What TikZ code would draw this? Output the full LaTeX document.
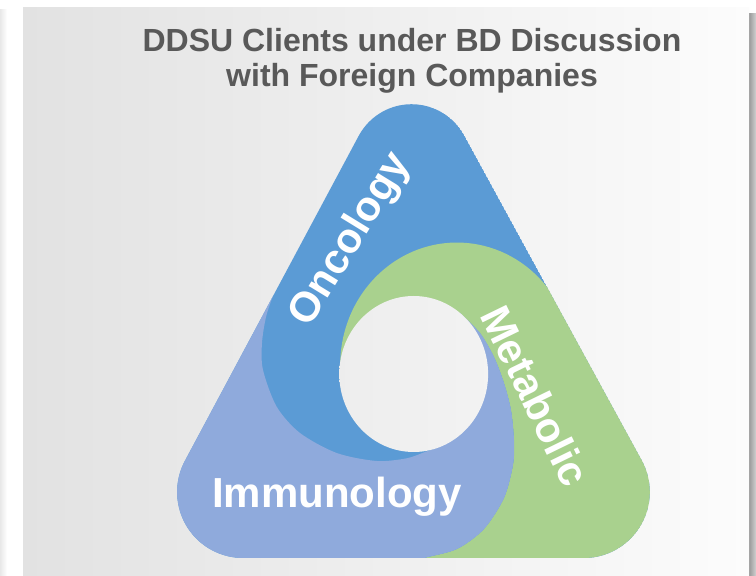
\documentclass[tikz,border=0pt]{standalone}
\usepackage{fontspec}
\setmainfont{Liberation Sans}
\begin{document}
\begin{tikzpicture}[x=1pt,y=1pt,
  lbl/.style={text=white,inner sep=0pt,font=\bfseries\fontsize{#1}{#1}\selectfont},
  ttl/.style={text=titlegray,inner sep=0pt,anchor=base,font=\bfseries\fontsize{32}{34}\selectfont},
  panelshade/.style={left color=panelL,right color=panelR}]
\definecolor{cblue}{HTML}{5B9BD5}
\definecolor{cgreen}{HTML}{A9D18E}
\definecolor{cperi}{HTML}{8FAADC}
\definecolor{panelL}{HTML}{E2E2E2}
\definecolor{panelR}{HTML}{FCFCFC}
\definecolor{titlegray}{HTML}{595959}
\newcommand\tripath{(464.2,440.6) arc[start angle=28.7,end angle=151.9,radius=60]
  -- (184.9,115.1) arc[start angle=151.9,end angle=270,radius=66]
  -- (583.8,18) arc[start angle=270,end angle=388.6,radius=66] -- cycle}
\useasboundingbox (0,0) rectangle (756,576);
\fill[white] (0,0) rectangle (756,576);
% shadows
\shade[left color=black!9,right color=white] (0,0) rectangle (7,566);
\shade[left color=black!40,right color=black!18] (749,0) rectangle (756,562);
% panel
\shade[panelshade] (23,0) rectangle (749,568);
% title
\node[ttl] (title1) at (412,524) {DDSU Clients under BD Discussion};
\node[ttl] (title2) at (412,489.5) {with Foreign Companies};
% lobes
\begin{scope}
  \clip \tripath;
  \fill[cblue] \tripath;
  % green (Metabolic)
  \fill[cgreen] (640,289.3) -- (546.7,289.3)
    arc[start angle=39.7,end angle=182,x radius=116.7,y radius=122.3]
    -- (413.7,202)
    -- plot[smooth] coordinates {(460,263) (480,243) (494,219) (504,193) (511,166) (514,136) (513,111) (504,78) (484,47) (457,27) (423,17.7) (390,8)}
    -- (390,-10) -- (780,-10) -- (780,289.3) -- cycle;
  % periwinkle (Immunology)
  \fill[cperi] plot[smooth] coordinates {(460,263) (480,243) (494,219) (504,193) (511,166) (514,136) (513,111) (504,78) (484,47) (457,27) (423,17.7) (390,8)}
    -- (390,-10) -- (100,-10) -- (100,288)
    -- plot[smooth] coordinates {(276,288) (266.5,261) (262,233) (263,206) (276.7,169.3) (300,143) (336.7,123) (376.7,115) (406.7,117.7) (425,124) (437,128)}
    -- (413.7,202) -- cycle;
\end{scope}
% hole
\begin{scope}
  \clip (413.7,202) ellipse[x radius=74.4,y radius=78];
  \shade[panelshade] (23,0) rectangle (749,568);
\end{scope}
% labels
\node[lbl=42,rotate=58.5] (onc) at (351,336) {Oncology};
\node[lbl=42,rotate=-64] (met) at (535.5,180) {Metabolic};
\node[lbl=42,anchor=base] (imm) at (337,68.5) {Immunology};
\end{tikzpicture}
\end{document}
